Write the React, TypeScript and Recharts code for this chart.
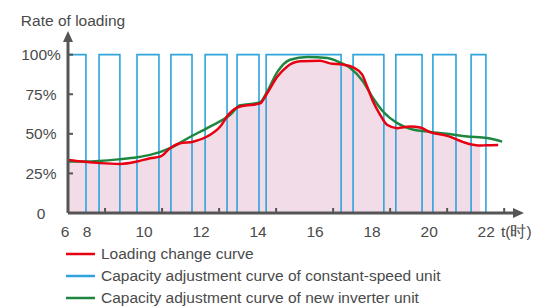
import React from 'react';
import { ComposedChart, Line, Area, XAxis, YAxis, Legend } from 'recharts';

// Loading change curve (hours, %)
const loadingHours = [6.7, 7.3, 7.82, 8.53, 9.12, 9.58, 9.93, 10.28, 10.63, 11.09, 11.58, 12.04, 12.32, 12.74, 13.19, 13.44, 13.68, 14.04, 14.39, 14.84, 15.54, 15.89, 16.35, 16.7, 17.02, 17.19, 17.4, 17.65, 17.89, 18.25, 18.7, 19.05, 19.4, 20.0, 20.7, 21.16, 21.37, 21.79];
const loadingValues = [33.5, 32.3, 31.5, 31, 32.5, 34.6, 35.6, 40.9, 44, 45, 48.3, 54.6, 62, 67.3, 68.4, 69.2, 75.5, 86, 92.6, 95.8, 96.2, 94.5, 93.7, 92, 87.4, 80, 70.4, 62, 55.7, 53.6, 54.6, 54, 51.1, 48.7, 44, 42.6, 42.8, 43];

// New inverter unit capacity curve
const inverterHours = [6.7, 7.3, 8.53, 9.12, 9.58, 10.28, 10.98, 11.68, 12.39, 12.74, 13.09, 13.44, 13.68, 14.04, 14.49, 15.09, 15.79, 16.25, 16.6, 17.05, 17.4, 17.75, 18.25, 18.7, 19.4, 20.0, 20.7, 21.4, 21.93];
const inverterValues = [32.5, 32.5, 34, 35.2, 36.7, 41, 48, 54.6, 62, 68, 68.8, 70, 76.5, 89, 96.8, 98.5, 97.9, 95, 91.6, 83.1, 72.6, 64.1, 56.8, 53.2, 51.2, 50, 48.3, 47.3, 45.1];

// Constant-speed unit on/off pulses (hours)
const pulseStarts = [6.7, 7.79, 9.12, 10.31, 11.51, 12.63, 13.65, 16.7, 18.2, 19.5, 20.84];
const pulseEnds = [7.33, 8.52, 9.89, 11.05, 12.28, 13.4, 16.28, 17.78, 19.12, 20.31, 21.36];
const pulseOn = 100;
const pulseOff = 0;

const xTicks = [6.7, 8, 10, 12, 14, 16, 18, 20, 22];
const xTickLabels = ['6', '8', '10', '12', '14', '16', '18', '20', '22'];
const yTicks = [0, 25, 50, 75, 100];
const yTickLabels = ['0', '25%', '50%', '75%', '100%'];

const seriesNames = [
  'Loading change curve',
  'Capacity adjustment curve of constant-speed unit',
  'Capacity adjustment curve of new inverter unit',
];
const yTitle = 'Rate of loading';
const xUnit = 't(时)';

const RED = '#e60012';
const BLUE = '#2ea3dc';
const GREEN = '#1f8640';
const PINK = '#f2dce8';
const AXIS = '#555555';
const TEXT = '#4a4a4a';
const FONT = "'Liberation Sans', Arial, sans-serif";

const loadingData = loadingHours.map((t, i) => ({ t, v: loadingValues[i] }));
const areaEnd = pulseEnds[pulseEnds.length - 1];
const areaData = loadingData.filter((d) => d.t <= areaEnd);
const inverterData = inverterHours.map((t, i) => ({ t, v: inverterValues[i] }));
const pulseData: { t: number; v: number | null }[] = [];
pulseStarts.forEach((s, i) => {
  const e = pulseEnds[i];
  pulseData.push({ t: s, v: pulseOff }, { t: s, v: pulseOn }, { t: e, v: pulseOn }, { t: e, v: pulseOff }, { t: e, v: null });
});

const XTick = (props: any) => {
  const { x, y, payload } = props;
  const idx = xTicks.indexOf(payload.value);
  const dx = idx === 0 ? -3 : -18;
  return (
    <text x={x + dx} y={y} dy="0.71em" textAnchor="middle" fill={TEXT} fontSize={15.5} fontFamily={FONT}>
      {xTickLabels[idx]}
    </text>
  );
};

const LegendContent = (props: any) => {
  const payload = (props.payload || [])
    .filter((p: any) => seriesNames.indexOf(p.value) >= 0 && p.type !== 'none')
    .sort((a: any, b: any) => seriesNames.indexOf(a.value) - seriesNames.indexOf(b.value));
  return (
    <div style={{ height: 66, fontFamily: FONT, fontSize: 15.5, color: TEXT }}>
      {payload.map((p: any) => (
        <div key={p.value} style={{ display: 'flex', alignItems: 'center', height: 22, whiteSpace: 'nowrap' }}>
          <svg width={29} height={6} style={{ marginRight: 6 }}>
            <line x1={0} y1={3} x2={29} y2={3} stroke={p.color} strokeWidth={2.5} />
          </svg>
          <span>{p.value}</span>
        </div>
      ))}
    </div>
  );
};

export default function App() {
  return (
    <div style={{ position: 'absolute', left: 0, top: 0, width: 541, height: 307, background: '#fff', overflow: 'hidden' }}>
      <svg width={0} height={0} style={{ position: 'absolute' }}>
        <defs>
          <marker id="axisArrow" viewBox="0 0 11 10" refX={0} refY={5} markerWidth={11} markerHeight={10} markerUnits="userSpaceOnUse" orient="auto-start-reverse">
            <path d="M0,0 L11,5 L0,10 z" fill={AXIS} />
          </marker>
        </defs>
      </svg>
      <ComposedChart width={541} height={310} margin={{ top: 42, right: 28, bottom: 1, left: 8 }}>
        <XAxis
          dataKey="t"
          type="number"
          domain={[6.7, 22.31]}
          allowDataOverflow
          ticks={xTicks}
          interval={0}
          height={30}
          tickSize={-5}
          tickMargin={18}
          tick={<XTick />}
          tickLine={{ stroke: AXIS, strokeWidth: 2 }}
          axisLine={{ stroke: AXIS, strokeWidth: 3, markerEnd: 'url(#axisArrow)' }}
          label={{ value: xUnit, position: 'right', dx: -17, dy: 3, fill: TEXT, fontSize: 15.5, fontFamily: FONT }}
        />
        <YAxis
          type="number"
          domain={[0, 108]}
          ticks={yTicks}
          interval={0}
          width={60}
          tickSize={-5}
          tickMargin={32}
          tickFormatter={(v: number) => yTickLabels[yTicks.indexOf(v)]}
          tick={{ fill: TEXT, fontSize: 15.5, fontFamily: FONT, textAnchor: 'middle' }}
          tickLine={{ stroke: AXIS, strokeWidth: 2 }}
          axisLine={{ stroke: AXIS, strokeWidth: 3, markerStart: 'url(#axisArrow)' }}
          label={{ value: yTitle, position: 'top', offset: 16, dx: 35, fill: TEXT, fontSize: 15.5, fontFamily: FONT }}
        />
        <Area
          data={areaData}
          dataKey="v"
          type="monotone"
          stroke="none"
          fill={PINK}
          fillOpacity={1}
          legendType="none"
          isAnimationActive={false}
          dot={false}
          activeDot={false}
        />
        <Line
          data={pulseData}
          dataKey="v"
          name={seriesNames[1]}
          type="linear"
          stroke={BLUE}
          strokeWidth={1.6}
          dot={false}
          activeDot={false}
          isAnimationActive={false}
        />
        <Line
          data={inverterData}
          dataKey="v"
          name={seriesNames[2]}
          type="monotone"
          stroke={GREEN}
          strokeWidth={2.5}
          dot={false}
          activeDot={false}
          isAnimationActive={false}
        />
        <Line
          data={loadingData}
          dataKey="v"
          name={seriesNames[0]}
          type="monotone"
          stroke={RED}
          strokeWidth={2.5}
          dot={false}
          activeDot={false}
          isAnimationActive={false}
        />
        <Legend
          layout="horizontal"
          verticalAlign="bottom"
          align="left"
          content={<LegendContent />}
          wrapperStyle={{ left: 66, width: 470 }}
        />
      </ComposedChart>
    </div>
  );
}
